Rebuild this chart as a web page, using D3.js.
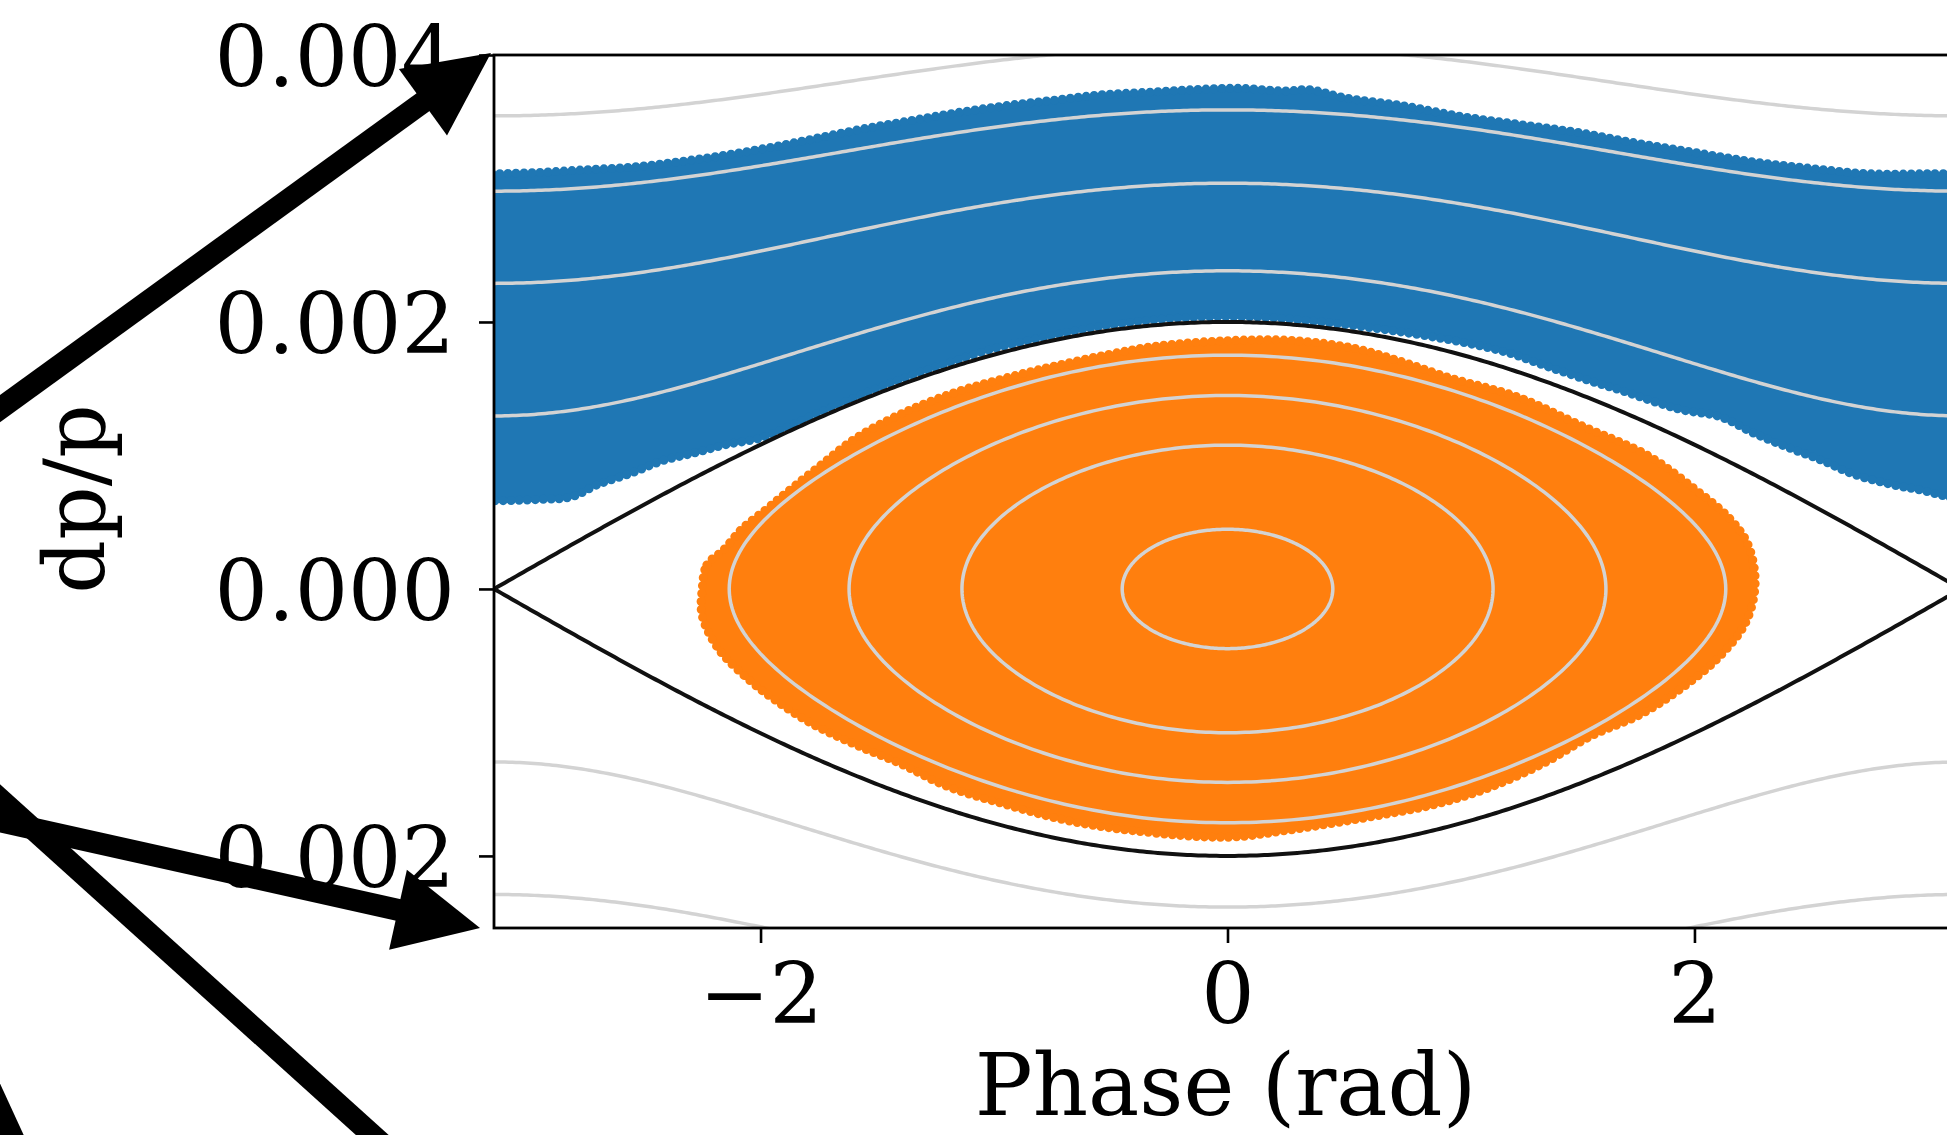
<!DOCTYPE html>
<html><head><meta charset="utf-8">
<script src="https://cdn.jsdelivr.net/npm/d3@7"></script>
<style>html,body{margin:0;padding:0;background:#fff;overflow:hidden}</style>
</head><body>
<svg id="c" width="1947" height="1135" xmlns="http://www.w3.org/2000/svg"></svg>
<script>
// ---------- data ----------
const xTicks = [-2, 0, 2];
const yTicks = [-0.002, 0, 0.002, 0.004];
const xDomain = [-Math.PI, Math.PI];
const yDomain = [-0.00254, 0.004];
const xLabel = "Phase (rad)";
const yLabel = "dp/p";
// half height of the bucket (separatrix at phase 0)
const bucketHeight = 0.002;
// contour levels of H = dp^2 + h^2 sin^2(phi/2), in units of h^2
const innerLevels = [0.05, 0.29, 0.525, 0.767];
const outerLevels = [1.42, 2.31, 3.22, 4.14];
// blue (unbound) particle band: upper and lower edges [phase, dp]
const blueTop = [[-3.15,0.00311],[-2.95,0.00312],[-2.75,0.00314],[-2.55,0.00316],[-2.35,0.00320],[-2.15,0.00325],[-1.95,0.00331],[-1.75,0.00338],[-1.55,0.00345],[-1.35,0.00351],[-1.15,0.00357],[-0.95,0.00362],[-0.75,0.00366],[-0.55,0.00370],[-0.35,0.00372],[-0.15,0.00374],[0.05,0.00375],[0.25,0.00373],[0.35,0.00374],[0.5,0.00368],[0.75,0.00362],[1.0,0.00354],[1.25,0.00348],[1.5,0.00342],[1.75,0.00334],[2.0,0.00327],[2.25,0.00320],[2.5,0.00315],[2.75,0.00311],[3.0,0.00311],[3.15,0.00311]];
const blueBottom = [[-3.15,0.00066],[-2.95,0.00067],[-2.81,0.00069],[-2.70,0.00078],[-2.55,0.00087],[-2.42,0.00096],[-2.28,0.00102],[-2.15,0.00108],[-2.0,0.00113],[-1.9,0.00120],[-1.8,0.00128],[-1.6,0.00143],[-1.4,0.00157],[-1.2,0.00169],[-1.0,0.00180],[-0.8,0.00188],[-0.6,0.00195],[-0.4,0.00200],[-0.2,0.00203],[0,0.00204],[0.2,0.00203],[0.4,0.00200],[0.6,0.00196],[0.8,0.00191],[1.0,0.00185],[1.2,0.00177],[1.38,0.00166],[1.55,0.00156],[1.68,0.00149],[1.85,0.00139],[1.95,0.00134],[2.11,0.00129],[2.25,0.00117],[2.40,0.00106],[2.55,0.00096],[2.68,0.00086],[2.85,0.00078],[2.97,0.00074],[3.15,0.00066]];
// orange (bound) particle cloud outline [phase, dp]
const orangeEdge = [[-2.25,0.00000],[-2.23,0.00018],[-2.16,0.00029],[-2.08,0.00045],[-1.98,0.00059],[-1.89,0.00072],[-1.74,0.00093],[-1.60,0.00112],[-1.40,0.00131],[-1.17,0.00147],[-0.95,0.00158],[-0.74,0.00167],[-0.50,0.00176],[-0.30,0.00182],[0.0,0.00186],[0.29,0.00186],[0.55,0.00180],[0.75,0.00170],[0.955,0.00158],[1.24,0.00144],[1.52,0.00122],[1.80,0.00100],[2.00,0.00075],[2.15,0.00053],[2.23,0.00033],[2.26,0.00004],[2.22,-0.00025],[2.10,-0.00052],[1.94,-0.00075],[1.77,-0.00094],[1.56,-0.00110],[1.35,-0.00131],[1.12,-0.00149],[0.90,-0.00161],[0.67,-0.00169],[0.25,-0.00181],[0.0,-0.00186],[-0.41,-0.00181],[-0.70,-0.00173],[-0.96,-0.00161],[-1.20,-0.00148],[-1.40,-0.00131],[-1.59,-0.00117],[-1.78,-0.00101],[-1.94,-0.00083],[-2.05,-0.00068],[-2.18,-0.00045],[-2.25,-0.00020]];

// ---------- layout ----------
const L = 494, R = 1961, T = 55, B = 928;
const FONT = "'DejaVu Serif', 'Liberation Serif', serif";
const FS = 84;
const BLUE = "#1f77b4", ORANGE = "#ff7f0e", GREY = "#d3d3d3";

const svg = d3.select("#c");
const x = d3.scaleLinear().domain(xDomain).range([L, R]);
const y = d3.scaleLinear().domain(yDomain).range([B, T]);

svg.append("defs").append("clipPath").attr("id", "clip")
  .append("rect").attr("x", L).attr("y", T).attr("width", R - L).attr("height", B - T);

const plot = svg.append("g").attr("clip-path", "url(#clip)");

const lineCR = d3.line().x(d => x(d[0])).y(d => y(d[1])).curve(d3.curveCatmullRom.alpha(0.5));

function cloud(d, color) {
  plot.append("path").attr("d", d)
    .attr("fill", color).attr("stroke", color).attr("stroke-width", 3).attr("stroke-linejoin", "round");
  // scalloped edge imitating the overlapping scatter markers
  plot.append("path").attr("d", d)
    .attr("fill", "none").attr("stroke", color).attr("stroke-width", 9)
    .attr("stroke-linecap", "round").attr("stroke-dasharray", "0 8");
}

// blue band
const topPath = lineCR(blueTop);
const botPath = lineCR(blueBottom.slice().reverse());
cloud(topPath + botPath.replace(/^M/, "L") + "Z", BLUE);

// orange cloud
cloud(d3.line().x(d => x(d[0])).y(d => y(d[1])).curve(d3.curveCatmullRomClosed.alpha(0.5))(orangeEdge), ORANGE);

// Hamiltonian contours
const lin = d3.line().x(d => x(d[0])).y(d => y(d[1]));
const phiSamples = d3.range(0, 401).map(i => -Math.PI + i * 2 * Math.PI / 400);
outerLevels.forEach(E => {
  [1, -1].forEach(s => {
    const pts = phiSamples.map(p => [p, s * bucketHeight * Math.sqrt(E - Math.sin(p / 2) ** 2)]);
    plot.append("path").attr("d", lin(pts)).attr("fill", "none")
      .attr("stroke", GREY).attr("stroke-width", 3.5);
  });
});
const thetaSamples = d3.range(0, 361).map(i => i * 2 * Math.PI / 360);
innerLevels.forEach(E => {
  const r = Math.sqrt(E);
  const pts = thetaSamples.map(t => [2 * Math.asin(r * Math.sin(t)), bucketHeight * r * Math.cos(t)]);
  plot.append("path").attr("d", lin(pts) + "Z").attr("fill", "none")
    .attr("stroke", GREY).attr("stroke-width", 3.5);
});
// separatrix
[1, -1].forEach(s => {
  const pts = phiSamples.map(p => [p, s * bucketHeight * Math.cos(p / 2)]);
  plot.append("path").attr("d", lin(pts)).attr("fill", "none")
    .attr("stroke", "#111").attr("stroke-width", 4);
});

// frame
svg.append("rect").attr("x", L).attr("y", T).attr("width", R - L).attr("height", B - T)
  .attr("fill", "none").attr("stroke", "#000").attr("stroke-width", 2.8);

// axes
const ax = svg.append("g").attr("transform", `translate(0,${B})`)
  .call(d3.axisBottom(x).tickValues(xTicks).tickFormat(d3.format("d")).tickSize(15).tickPadding(20).tickSizeOuter(0));
const ay = svg.append("g").attr("transform", `translate(${L},0)`)
  .call(d3.axisLeft(y).tickValues(yTicks).tickFormat(d3.format(".3f")).tickSize(15).tickPadding(24).tickSizeOuter(0));
[ax, ay].forEach(g => {
  g.select(".domain").remove();
  g.selectAll(".tick line").attr("stroke", "#000").attr("stroke-width", 2.6);
  g.selectAll(".tick text").attr("font-family", FONT).attr("font-size", FS).attr("fill", "#000");
});
ax.selectAll(".tick text").attr("dy", "0.72em");
ay.selectAll(".tick text").attr("dy", "0.36em");

svg.append("text").attr("x", (L + R) / 2 - 2).attr("y", 1115)
  .attr("text-anchor", "middle").attr("font-family", FONT).attr("font-size", 86).text(xLabel);
svg.append("text").attr("transform", `translate(104,499) rotate(-90)`)
  .attr("text-anchor", "middle").attr("font-family", FONT).attr("font-size", FS).text(yLabel);

// connector arrows coming from outside the frame
function arrow(x0, y0, x1, y1, head) {
  const dx = x1 - x0, dy = y1 - y0, len = Math.hypot(dx, dy);
  const ux = dx / len, uy = dy / len;
  const g = svg.append("g");
  if (head) {
    const hl = 84, hw = 41;
    const bx = x1 - ux * hl, by = y1 - uy * hl;
    g.append("line").attr("x1", x0).attr("y1", y0).attr("x2", bx + ux * 4).attr("y2", by + uy * 4)
      .attr("stroke", "#000").attr("stroke-width", 22);
    g.append("path").attr("d", `M${x1},${y1}L${bx - uy * hw},${by + ux * hw}L${bx + uy * hw},${by - ux * hw}Z`)
      .attr("fill", "#000");
  } else {
    g.append("line").attr("x1", x0).attr("y1", y0).attr("x2", x1).attr("y2", y1)
      .attr("stroke", "#000").attr("stroke-width", 22);
  }
}
const cornerTop = [x(xDomain[0]), y(yDomain[1])];
const cornerBot = [x(xDomain[0]), y(yDomain[0])];
arrow(-60, 452, cornerTop[0] - 3, cornerTop[1] - 2, true);
arrow(-60, 808, cornerBot[0] - 14, cornerBot[1], true);
arrow(-60, 745, 400, 1160, false);
arrow(-23, 1060, 30, 1175, false);
</script>
</body></html>
